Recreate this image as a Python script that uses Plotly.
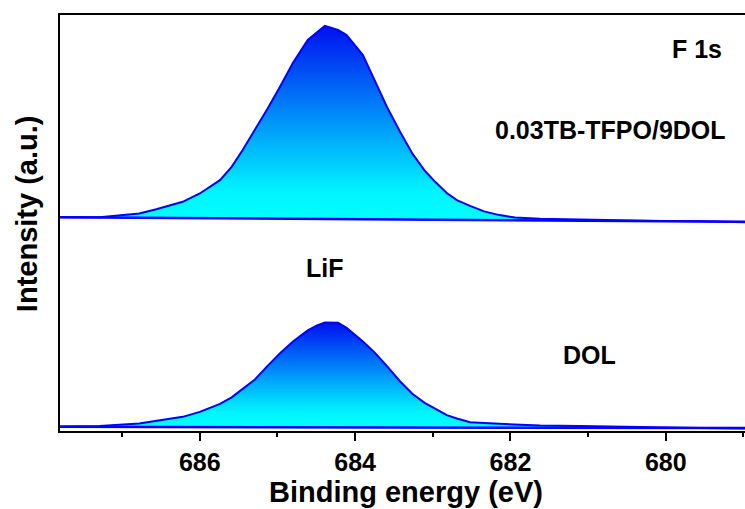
import plotly.graph_objects as go

# Binding energy grid (eV)
energy = [687.80, 687.29, 686.78, 686.56, 686.22, 686.00, 685.74, 685.59, 685.45,
          685.29, 685.13, 684.96, 684.80, 684.61, 684.49, 684.39, 684.22, 684.11,
          683.90, 683.75, 683.59, 683.42, 683.26, 683.10, 682.97, 682.82, 682.69,
          682.52, 682.34, 682.14, 681.94, 681.62, 681.11, 680.59, 680.07, 679.56, 678.98]

# 0.03TB-TFPO/9DOL (offset upper spectrum), a.u.
tfpo = [51.4, 51.4, 52.3, 53.3, 55.1, 57.1, 60.3, 63.5, 67.5,
        72.4, 77.4, 83.0, 88.5, 94.0, 95.9, 97.4, 96.4, 95.2,
        90.4, 84.4, 77.9, 71.9, 66.6, 62.5, 59.9, 57.2, 55.5,
        54.1, 52.8, 51.9, 51.3, 51.0, 50.8, 50.6, 50.5, 50.4, 50.2]
tfpo_bg_x = [687.80, 678.98]
tfpo_bg_y = [51.4, 50.3]

# DOL (lower spectrum), a.u.
dol = [1.1, 1.2, 1.8, 2.4, 3.4, 4.6, 6.5, 8.1, 10.2,
       12.4, 15.6, 18.8, 21.5, 24.2, 25.4, 26.1, 26.0, 24.8,
       21.5, 18.9, 15.6, 11.9, 8.9, 6.7, 5.4, 3.8, 3.0,
       2.1, 1.9, 1.7, 1.5, 1.3, 1.2, 1.0, 0.8, 0.7, 0.6]
dol_bg_x = [687.80, 678.98]
dol_bg_y = [1.0, 0.7]

x_ticks = [686, 684, 682, 680]

BLUE = "#0000FF"
grad = dict(type="vertical",
            colorscale=[[0, "#00FFFF"], [0.15, "#00F6FF"], [1, "#0010F0"]])
FONT = "Liberation Sans, Arial, sans-serif"

fig = go.Figure()
for bx, by, yy in [(dol_bg_x, dol_bg_y, dol), (tfpo_bg_x, tfpo_bg_y, tfpo)]:
    fig.add_trace(go.Scatter(x=bx, y=by, mode="lines",
                             line=dict(color=BLUE, width=2.5), showlegend=False))
    fig.add_trace(go.Scatter(x=energy, y=yy, mode="lines", fill="tonexty",
                             fillgradient=grad, line=dict(color=BLUE, width=2),
                             showlegend=False))

fig.update_layout(
    width=745, height=509,
    margin=dict(l=60, r=0, t=15, b=78),
    paper_bgcolor="white", plot_bgcolor="white",
    font=dict(family=FONT, color="black"),
    xaxis=dict(range=[687.8, 678.98], tickvals=x_ticks,
               ticks="outside", ticklen=8, tickwidth=2, tickcolor="black",
               minor=dict(dtick=1, tick0=679, ticks="outside", ticklen=4,
                          tickwidth=2, tickcolor="black"),
               showline=True, linecolor="black", linewidth=2, mirror=True,
               showgrid=False, zeroline=False,
               tickfont=dict(size=25, family=FONT, weight="bold")),
    yaxis=dict(range=[0, 100], showticklabels=False, ticks="",
               showline=True, linecolor="black", linewidth=2,
               showgrid=False, zeroline=False),
)

ann = dict(xref="paper", yref="paper", showarrow=False,
           font=dict(family=FONT, size=25, color="black", weight="bold"))
fig.add_annotation(text="F 1s", x=0.9693, y=0.918, xanchor="right", yanchor="middle", **ann)
fig.add_annotation(text="0.03TB-TFPO/9DOL", x=0.9752, y=0.7236, xanchor="right", yanchor="middle", **ann)
fig.add_annotation(text="LiF", x=0.3869, y=0.3918, xanchor="center", yanchor="middle", **ann)
fig.add_annotation(text="DOL", x=0.7737, y=0.1827, xanchor="center", yanchor="middle", **ann)

title_font = dict(family=FONT, size=29, color="black", weight="bold")
fig.add_annotation(text="Binding energy (eV)", x=0.505, y=-0.1466, xref="paper", yref="paper",
                   showarrow=False, xanchor="center", yanchor="middle", font=title_font)
fig.add_annotation(text="Intensity (a.u.)", x=-0.048, y=0.5216, xref="paper", yref="paper",
                   showarrow=False, xanchor="center", yanchor="middle", textangle=-90,
                   font=title_font)

fig.write_html("out.html")
